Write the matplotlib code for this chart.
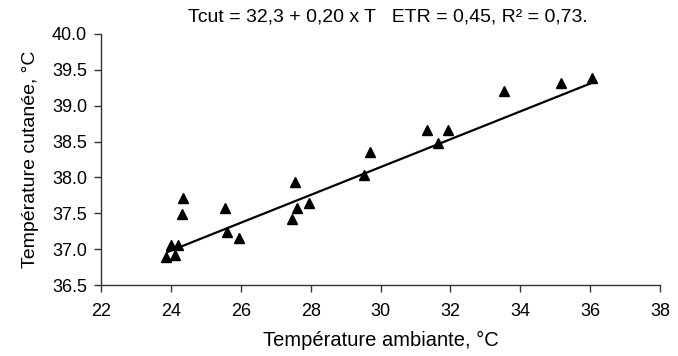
import matplotlib
matplotlib.use("Agg")
import matplotlib.pyplot as plt
import numpy as np

plt.rcParams['font.family'] = ['Liberation Sans', 'DejaVu Sans']

t_amb = [23.86, 24.13, 23.99, 24.21, 24.31, 24.34, 25.54, 25.60, 25.95,
         27.47, 27.60, 27.55, 27.96, 29.54, 29.70, 31.32, 31.94, 31.65,
         33.54, 35.17, 36.04]
t_cut = [36.89, 36.92, 37.06, 37.06, 37.49, 37.71, 37.58, 37.24, 37.16,
         37.42, 37.57, 37.93, 37.64, 38.03, 38.36, 38.66, 38.66, 38.48,
         39.21, 39.32, 39.39]
# regression line as drawn in the chart
fit_x = [23.90, 36.06]
fit_y = [36.96, 39.32]
x_ticks = [22, 24, 26, 28, 30, 32, 34, 36, 38]
y_ticks = [36.5, 37.0, 37.5, 38.0, 38.5, 39.0, 39.5, 40.0]
title = "Tcut = 32,3 + 0,20 x T   ETR = 0,45, R² = 0,73."

fig = plt.figure(figsize=(6.78, 3.56), dpi=100)
ax = fig.add_axes([101/678, 1-285/356, (660-101)/678, (285-34)/356])

ax.plot(fit_x, fit_y, color='black', lw=1.6, zorder=2)
ax.plot(t_amb, t_cut, linestyle='none', marker='^', color='black', ms=6.5, zorder=3)

ax.set_xlim(22, 38)
ax.set_ylim(36.5, 40.0)
ax.set_xticks(x_ticks)
ax.set_yticks(y_ticks)
ax.set_yticklabels([f"{v:.1f}" for v in y_ticks])
for s in ['top', 'right']:
    ax.spines[s].set_visible(False)
for s in ['left', 'bottom']:
    ax.spines[s].set_color('#333333')
    ax.spines[s].set_linewidth(1.0)
ax.tick_params(direction='out', length=5, width=1, labelsize=13, colors='#333333', labelcolor='black')
ax.tick_params(axis='x', pad=8)
ax.tick_params(axis='y', pad=5)
ax.set_xlabel("Température ambiante, °C", fontsize=14.5, labelpad=8)
ax.set_ylabel("Température cutanée, °C", fontsize=14, labelpad=9)
fig.text(388/678, 1-17/356, title, ha='center', va='center', fontsize=14)

fig.savefig("out.png", dpi=100)
